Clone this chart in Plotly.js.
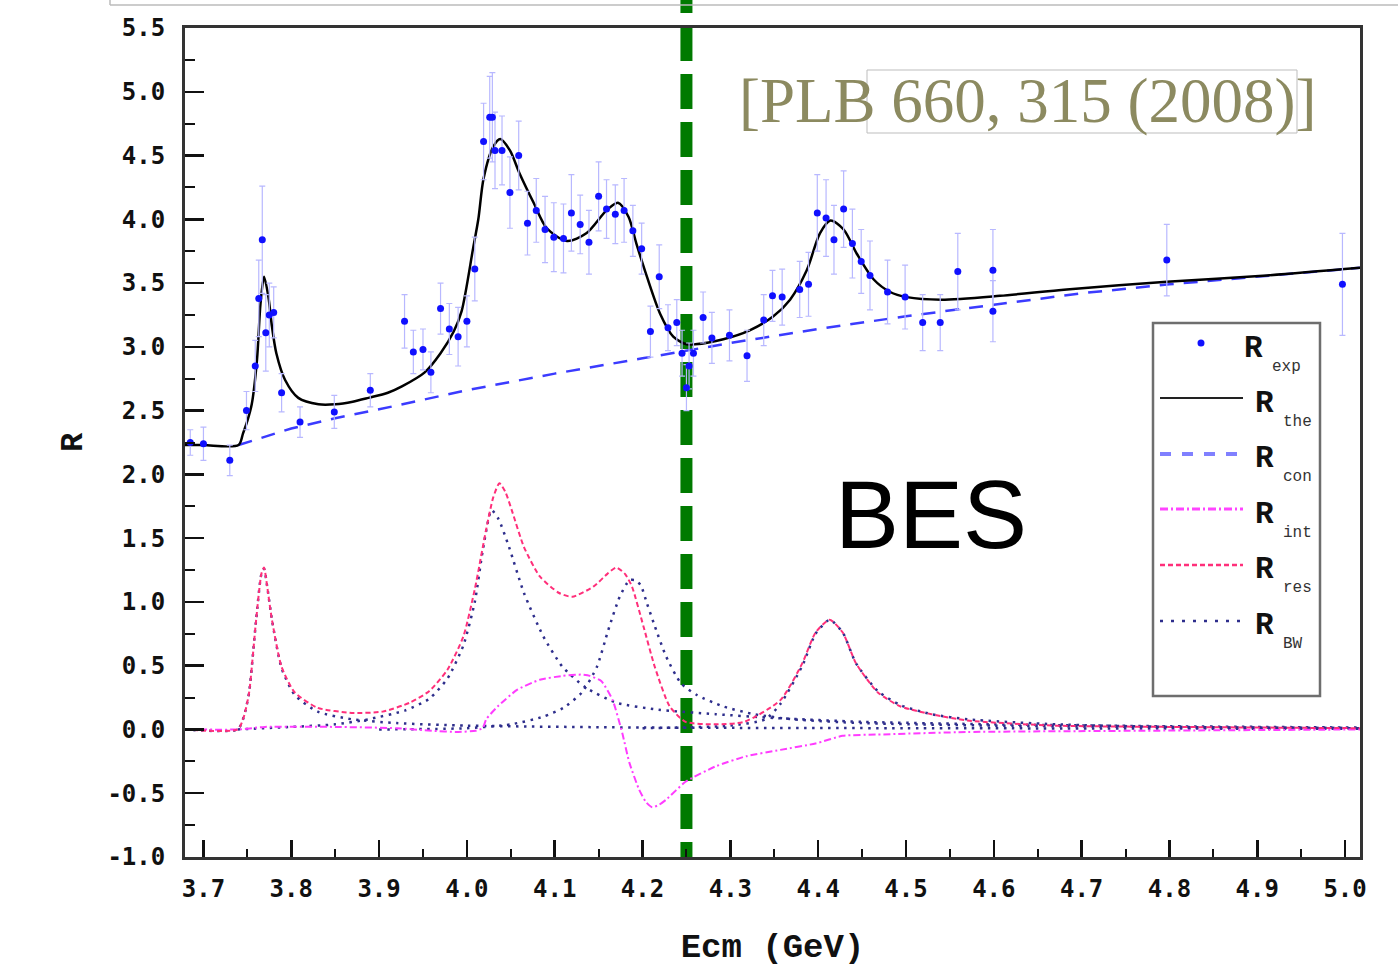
<!DOCTYPE html>
<html><head><meta charset="utf-8">
<script src="https://cdn.plot.ly/plotly-3.0.1.min.js"></script>
<style>html,body{margin:0;padding:0;background:#fff;} #chart{width:1398px;height:969px;}</style>
</head><body><div id="chart"></div>
<script>
// ---- measured data (R_exp) ----
const expE = [3.685,3.700,3.730,3.749,3.759,3.763,3.767,3.771,3.775,3.780,3.789,3.810,3.849,3.890,3.929,3.939,3.950,3.959,3.970,3.980,3.990,4.000,4.009,4.019,4.026,4.029,4.032,4.040,4.049,4.059,4.069,4.079,4.089,4.099,4.110,4.119,4.129,4.139,4.150,4.159,4.169,4.179,4.189,4.199,4.209,4.219,4.229,4.239,4.245,4.250,4.253,4.258,4.269,4.279,4.299,4.319,4.338,4.348,4.359,4.379,4.389,4.399,4.409,4.418,4.429,4.439,4.449,4.459,4.479,4.499,4.519,4.539,4.559,4.599,4.599,4.797,4.997];
const expR = [2.25,2.24,2.11,2.50,2.85,3.38,3.84,3.11,3.25,3.27,2.64,2.41,2.49,2.66,3.20,2.96,2.98,2.80,3.30,3.14,3.08,3.20,3.61,4.61,4.80,4.80,4.54,4.54,4.21,4.50,3.97,4.07,3.92,3.86,3.85,4.05,3.96,3.82,4.18,4.08,4.04,4.07,3.91,3.77,3.12,3.55,3.15,3.19,2.95,2.68,2.85,2.95,3.23,3.07,3.09,2.93,3.21,3.40,3.39,3.45,3.49,4.05,4.01,3.84,4.08,3.81,3.67,3.56,3.43,3.39,3.19,3.19,3.59,3.60,3.28,3.68,3.49];
const expErr = [0.10,0.13,0.12,0.15,0.20,0.30,0.42,0.30,0.25,0.20,0.15,0.12,0.13,0.13,0.21,0.17,0.16,0.16,0.20,0.20,0.23,0.20,0.25,0.30,0.32,0.35,0.30,0.27,0.28,0.27,0.25,0.25,0.26,0.27,0.27,0.30,0.23,0.25,0.27,0.23,0.23,0.25,0.20,0.20,0.20,0.25,0.18,0.18,0.18,0.18,0.18,0.18,0.20,0.20,0.20,0.20,0.20,0.20,0.22,0.22,0.25,0.30,0.30,0.27,0.30,0.27,0.25,0.27,0.25,0.25,0.22,0.22,0.30,0.32,0.24,0.28,0.40];

// ---- theory curve R_the ----
const theE = [3.679,3.700,3.740,3.745,3.750,3.755,3.761,3.765,3.769,3.774,3.778,3.783,3.793,3.808,3.831,3.850,3.870,3.888,3.910,3.926,3.952,3.970,3.985,3.994,4.007,4.013,4.019,4.030,4.038,4.049,4.060,4.076,4.091,4.114,4.136,4.159,4.172,4.184,4.193,4.205,4.220,4.235,4.250,4.260,4.292,4.322,4.349,4.368,4.387,4.402,4.414,4.429,4.444,4.463,4.482,4.501,4.540,4.607,4.683,4.797,4.911,5.017];
const theR = [2.23,2.23,2.23,2.32,2.42,2.55,2.90,3.34,3.55,3.39,3.16,2.95,2.74,2.60,2.55,2.55,2.57,2.60,2.64,2.69,2.80,2.95,3.12,3.28,3.77,4.00,4.32,4.57,4.63,4.54,4.36,4.13,3.93,3.83,3.89,4.07,4.13,4.02,3.81,3.55,3.26,3.08,3.02,3.02,3.06,3.13,3.24,3.37,3.60,3.89,3.99,3.92,3.73,3.53,3.43,3.39,3.37,3.40,3.45,3.51,3.56,3.62];

// ---- continuum R_con ----
const conE = [3.740,3.800,3.850,3.900,4.000,4.100,4.200,4.300,4.400,4.500,4.600,4.700,4.800,4.900,5.017];
const conR = [2.23,2.36,2.44,2.51,2.66,2.79,2.91,3.03,3.14,3.24,3.33,3.42,3.49,3.55,3.62];

// ---- interference R_int ----
const intE = [3.679,3.740,3.770,3.850,3.920,3.960,3.990,4.010,4.018,4.022,4.035,4.057,4.083,4.109,4.130,4.140,4.153,4.166,4.177,4.185,4.196,4.204,4.211,4.219,4.227,4.249,4.283,4.318,4.357,4.397,4.428,4.468,4.570,4.772,5.017];
const intR = [0,0,0.02,0.02,0.01,-0.01,-0.02,-0.01,0.01,0.08,0.18,0.31,0.39,0.42,0.43,0.42,0.38,0.23,-0.03,-0.26,-0.47,-0.57,-0.61,-0.59,-0.55,-0.41,-0.29,-0.21,-0.16,-0.11,-0.05,-0.04,-0.02,-0.01,0];

// ---- resonance sum R_res ----
const resE = [3.679,3.739,3.746,3.752,3.760,3.766,3.769,3.773,3.778,3.789,3.804,3.830,3.869,3.904,3.935,3.957,3.978,3.996,4.009,4.022,4.030,4.037,4.044,4.052,4.065,4.083,4.105,4.120,4.144,4.160,4.170,4.180,4.188,4.201,4.214,4.231,4.249,4.283,4.316,4.357,4.382,4.397,4.413,4.428,4.443,4.468,4.494,4.529,4.570,4.671,4.800,5.017];
const resR = [0,0,0.10,0.29,0.86,1.22,1.27,1.10,0.86,0.49,0.29,0.17,0.13,0.14,0.21,0.30,0.47,0.73,1.10,1.57,1.82,1.93,1.86,1.70,1.43,1.20,1.07,1.04,1.12,1.22,1.27,1.22,1.12,0.81,0.49,0.18,0.06,0.04,0.06,0.23,0.52,0.76,0.86,0.76,0.52,0.29,0.18,0.12,0.07,0.03,0.02,0.01];

// ---- Breit-Wigner components R_BW ----
const bw1E = [3.679,3.739,3.746,3.752,3.760,3.766,3.769,3.773,3.778,3.789,3.804,3.830,3.869,3.920,4.000,4.200,4.500,5.017];
const bw1R = [0,0,0.10,0.29,0.86,1.22,1.26,1.10,0.86,0.48,0.27,0.14,0.08,0.05,0.03,0.015,0.01,0.005];
const bw2E = [3.739,3.800,3.850,3.888,3.930,3.957,3.978,3.996,4.009,4.018,4.028,4.036,4.048,4.065,4.087,4.109,4.135,4.170,4.218,4.283,4.350,4.450,4.600,4.800,5.017];
const bw2R = [0,0.02,0.04,0.08,0.15,0.24,0.40,0.66,1.00,1.40,1.72,1.65,1.43,1.07,0.73,0.49,0.33,0.21,0.155,0.12,0.09,0.06,0.04,0.025,0.015];
const bw3E = [3.900,4.000,4.050,4.087,4.110,4.131,4.148,4.161,4.174,4.185,4.192,4.198,4.205,4.214,4.227,4.244,4.262,4.292,4.327,4.370,4.450,4.600,5.017];
const bw3R = [0,0.01,0.04,0.10,0.17,0.29,0.49,0.78,1.04,1.17,1.17,1.13,0.99,0.81,0.57,0.36,0.27,0.18,0.12,0.08,0.05,0.03,0.01];
const bw4E = [4.200,4.300,4.340,4.357,4.382,4.397,4.413,4.428,4.443,4.468,4.494,4.529,4.570,4.671,4.800,5.017];
const bw4R = [0.01,0.03,0.08,0.20,0.50,0.75,0.86,0.76,0.52,0.30,0.19,0.12,0.08,0.04,0.02,0.01];

// ---- axes ticks ----
const xTickVals = [3.7,3.8,3.9,4.0,4.1,4.2,4.3,4.4,4.5,4.6,4.7,4.8,4.9,5.0];
const xTickText = ['3.7','3.8','3.9','4.0','4.1','4.2','4.3','4.4','4.5','4.6','4.7','4.8','4.9','5.0'];
const yTickVals = [-1.0,-0.5,0.0,0.5,1.0,1.5,2.0,2.5,3.0,3.5,4.0,4.5,5.0,5.5];
const yTickText = ['-1.0','-0.5','0.0','0.5','1.0','1.5','2.0','2.5','3.0','3.5','4.0','4.5','5.0','5.5'];
const markE = 4.25;
const legendLabels = ['exp','the','con','int','res','BW'];

// ---- layout helpers (pixel -> paper) ----
const L=185, R=1360, T=28, B=857;
const px = x => (x-L)/(R-L);
const py = y => (B-y)/(B-T);

const bwStyle = {color:'#2e2e8c', width:2.5, dash:'2.5px,5.5px'};
const traces = [
  {x:conE, y:conR, mode:'lines', name:'R_con', line:{color:'#3b3bff', width:2.5, dash:'14px,10px'}},
  {x:theE, y:theR, mode:'lines', name:'R_the', line:{color:'#000', width:2.5, shape:'spline', smoothing:0.8}},
  {x:bw1E, y:bw1R, mode:'lines', name:'R_BW', line:Object.assign({shape:'spline',smoothing:0.6}, bwStyle)},
  {x:bw2E, y:bw2R, mode:'lines', name:'R_BW', line:Object.assign({shape:'spline',smoothing:0.6}, bwStyle)},
  {x:bw3E, y:bw3R, mode:'lines', name:'R_BW', line:Object.assign({shape:'spline',smoothing:0.6}, bwStyle)},
  {x:bw4E, y:bw4R, mode:'lines', name:'R_BW', line:Object.assign({shape:'spline',smoothing:0.6}, bwStyle)},
  {x:intE, y:intR, mode:'lines', name:'R_int', line:{color:'#ff3cff', width:2, dash:'7px,3px,2px,3px', shape:'spline', smoothing:0.5}},
  {x:resE, y:resR, mode:'lines', name:'R_res', line:{color:'#ff2f7a', width:2, dash:'5px,3px', shape:'spline', smoothing:0.6}},
  {x:expE, y:expR, mode:'markers', name:'R_exp', marker:{color:'#1010ff', size:7},
   error_y:{type:'data', array:expErr, visible:true, color:'#b8b8ff', thickness:1.2, width:3}}
];

const shapes = [
  // slide frame remnant at top
  {type:'line', xref:'paper', yref:'paper', x0:px(110), x1:px(1398), y0:py(5), y1:py(5), line:{color:'#bbbbbb', width:1.5}},
  {type:'line', xref:'paper', yref:'paper', x0:px(110), x1:px(110), y0:py(0), y1:py(5), line:{color:'#bbbbbb', width:1.5}},
  // green marker line at 4.25 GeV
  {type:'line', xref:'x', yref:'paper', x0:markE, x1:markE, y0:py(-22), y1:0, layer:'below',
   line:{color:'#007a00', width:12, dash:'35px,13px'}},
  // box around part of reference text
  {type:'rect', xref:'paper', yref:'paper', x0:px(867), x1:px(1297), y0:py(133), y1:py(70), line:{color:'#bdbdbd', width:1}},
  // legend box
  {type:'rect', xref:'paper', yref:'paper', x0:px(1153), x1:px(1320), y0:py(696), y1:py(323), layer:'above',
   fillcolor:'#ffffff', line:{color:'#6e6e6e', width:2.5}},
  {type:'circle', xref:'paper', yref:'paper', x0:px(1197.5), x1:px(1204.5), y0:py(346.5), y1:py(339.5), layer:'above',
   fillcolor:'#1010ff', line:{color:'#1010ff', width:0}},
  {type:'line', xref:'paper', yref:'paper', x0:px(1160), x1:px(1243), y0:py(398), y1:py(398), layer:'above', line:{color:'#222', width:2}},
  {type:'line', xref:'paper', yref:'paper', x0:px(1160), x1:px(1240), y0:py(454), y1:py(454), layer:'above', line:{color:'#8080ff', width:4, dash:'11px,11px'}},
  {type:'line', xref:'paper', yref:'paper', x0:px(1160), x1:px(1243), y0:py(509), y1:py(509), layer:'above', line:{color:'#ff44ff', width:3, dash:'8px,3px,2px,3px'}},
  {type:'line', xref:'paper', yref:'paper', x0:px(1160), x1:px(1243), y0:py(565), y1:py(565), layer:'above', line:{color:'#ff2f7a', width:2.5, dash:'5px,3px'}},
  {type:'line', xref:'paper', yref:'paper', x0:px(1160), x1:px(1243), y0:py(621), y1:py(621), layer:'above', line:{color:'#2e2e8c', width:2.5, dash:'3px,8px'}}
];

const annotations = [
  {xref:'paper', yref:'paper', x:px(931), y:py(514), xanchor:'center', yanchor:'middle', text:'BES', showarrow:false,
   font:{family:'Liberation Sans, Arial, sans-serif', size:96, color:'#000'}},
  {xref:'paper', yref:'paper', x:px(1027), y:py(101), xanchor:'center', yanchor:'middle', text:'[PLB 660, 315 (2008)]', showarrow:false,
   font:{family:'Liberation Serif, DejaVu Serif, serif', size:63, color:'#8c8a60'}}
];
const legY = [348,403,458,514,569,625];
const legX = [1242,1253,1253,1253,1253,1253];
legendLabels.forEach((s,i)=>{
  annotations.push({xref:'paper', yref:'paper', x:px(legX[i]), y:py(legY[i]), xanchor:'left', yanchor:'middle',
    text:'<b>R</b>', showarrow:false, font:{family:'Liberation Mono, Courier New, monospace', size:31, color:'#111'}});
  annotations.push({xref:'paper', yref:'paper', x:px(legX[i]+28), y:py(legY[i]+19), xanchor:'left', yanchor:'middle',
    text:s, showarrow:false, font:{family:'Liberation Mono, Courier New, monospace', size:16, color:'#333'}});
});

const tickFont = {family:'DejaVu Sans Mono, monospace', size:24, color:'#111', weight:'bold'};
const layout = {
  width:1398, height:969,
  margin:{l:L, r:1398-R, t:T, b:969-B, pad:0},
  paper_bgcolor:'#fff', plot_bgcolor:'#fff',
  showlegend:false,
  xaxis:{range:[3.679,5.017], showgrid:false, zeroline:false, showline:true, linecolor:'#333', linewidth:3, mirror:true,
    tickmode:'array', tickvals:xTickVals, ticktext:xTickText, ticks:'inside', ticklen:17, tickwidth:2.5, tickcolor:'#111',
    minor:{dtick:0.05, tick0:3.7, ticks:'inside', ticklen:8, tickwidth:2, tickcolor:'#111', showgrid:false},
    tickfont:tickFont, ticklabelstandoff:8,
    title:{text:'Ecm (GeV)', font:{family:'Liberation Mono, Courier New, monospace', size:34, color:'#111', weight:'bold'}, standoff:32}},
  yaxis:{range:[-1.0,5.5], showgrid:false, zeroline:false, showline:true, linecolor:'#333', linewidth:3, mirror:true,
    tickmode:'array', tickvals:yTickVals, ticktext:yTickText, ticks:'inside', ticklen:19, tickwidth:2.5, tickcolor:'#111',
    minor:{dtick:0.25, tick0:0, ticks:'inside', ticklen:10, tickwidth:2, tickcolor:'#111', showgrid:false},
    tickfont:tickFont, ticklabelstandoff:12,
    title:{text:'R', font:{family:'Liberation Mono, Courier New, monospace', size:32, color:'#111', weight:'bold'}, standoff:16}},
  shapes:shapes,
  annotations:annotations
};
Plotly.newPlot('chart', traces, layout, {displayModeBar:false, staticPlot:true});
</script></body></html>
